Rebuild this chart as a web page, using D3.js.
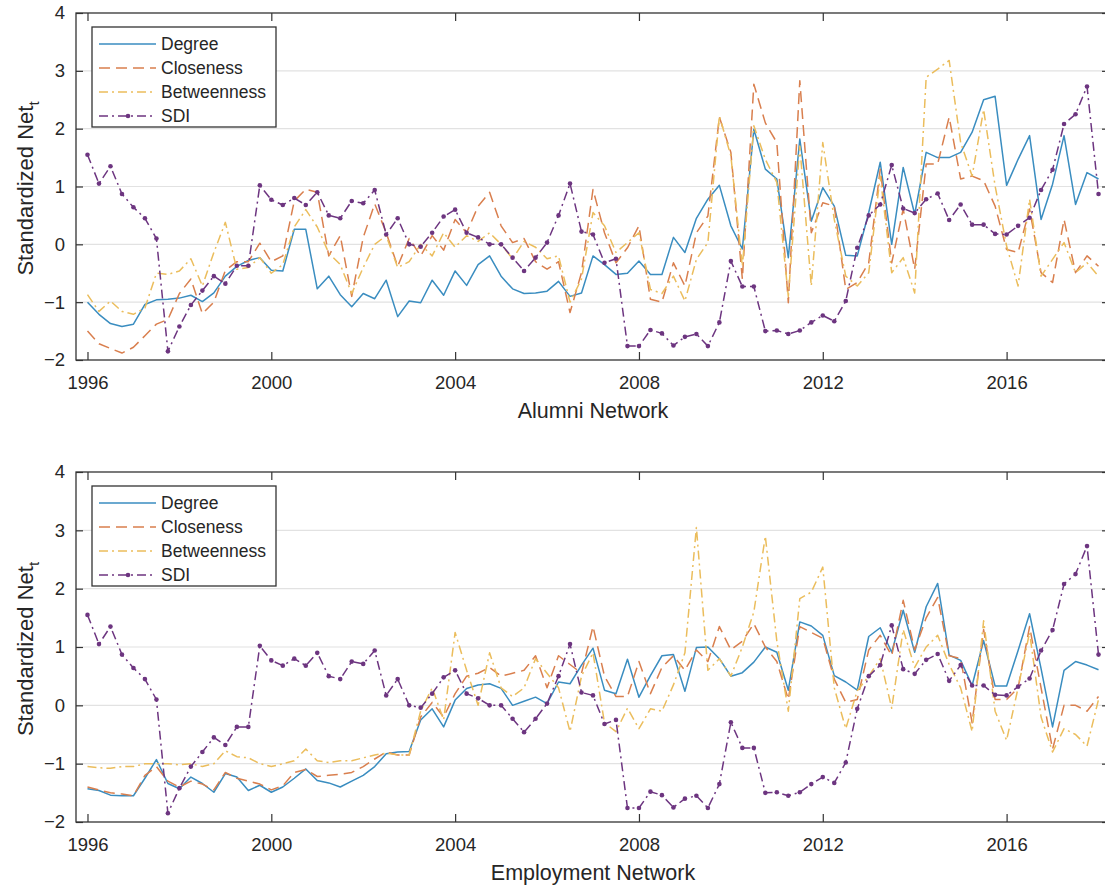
<!DOCTYPE html>
<html>
<head>
<meta charset="utf-8">
<script src="https://cdn.jsdelivr.net/npm/d3@7"></script>
<style>
  html, body { margin: 0; padding: 0; background: #fff; }
  svg { display: block; }
</style>
</head>
<body>
<script>
// ---------------- DATA ----------------
const startYear = 1996;          // first quarter shown
const periodsPerYear = 4;        // quarterly observations
const seriesNames = ["Degree", "Closeness", "Betweenness", "SDI"];
const xTickYears = [1996, 2000, 2004, 2008, 2012, 2016];
const yTickValues = [-2, -1, 0, 1, 2, 3, 4];
const panelLabels = ["Alumni Network", "Employment Network"];

// SDI (same in both panels)
const sdi = [
 1.55, 1.05, 1.35, 0.87, 0.64, 0.45, 0.10, -1.85, -1.42, -1.05, -0.80, -0.55, -0.68, -0.37, -0.37, 1.02,
 0.77, 0.68, 0.80, 0.68, 0.90, 0.50, 0.45, 0.75, 0.71, 0.94, 0.17, 0.45, 0.00, -0.04, 0.20, 0.48,
 0.60, 0.20, 0.12, 0.00, 0.00, -0.23, -0.46, -0.23, 0.03, 0.50, 1.05, 0.22, 0.17, -0.32, -0.25, -1.76,
 -1.76, -1.48, -1.54, -1.75, -1.60, -1.55, -1.76, -1.35, -0.29, -0.73, -0.73, -1.50, -1.49, -1.55, -1.49, -1.35,
 -1.23, -1.33, -0.98, -0.06, 0.50, 0.69, 1.37, 0.62, 0.54, 0.78, 0.88, 0.42, 0.69, 0.34, 0.34, 0.18,
 0.17, 0.32, 0.46, 0.94, 1.29, 2.08, 2.25, 2.73, 0.87
];

// Alumni network
const alumniDegree = [
 -1.00, -1.21, -1.37, -1.42, -1.38, -1.04, -0.96, -0.95, -0.93, -0.88, -0.99, -0.84, -0.55, -0.38, -0.28, -0.23,
 -0.45, -0.46, 0.26, 0.26, -0.77, -0.55, -0.87, -1.08, -0.85, -0.94, -0.62, -1.25, -0.98, -1.01, -0.62, -0.88,
 -0.46, -0.71, -0.35, -0.20, -0.55, -0.77, -0.85, -0.84, -0.81, -0.64, -0.90, -0.84, -0.20, -0.35, -0.52, -0.50,
 -0.29, -0.52, -0.52, 0.12, -0.14, 0.45, 0.78, 1.02, 0.32, -0.08, 1.99, 1.30, 1.13, -0.23, 1.82, 0.40,
 0.98, 0.66, -0.19, -0.20, 0.55, 1.42, 0.00, 1.33, 0.52, 1.59, 1.50, 1.50, 1.59, 1.94, 2.50, 2.56,
 1.02, 1.47, 1.88, 0.43, 1.04, 1.88, 0.69, 1.24, 1.13
];
const alumniCloseness = [
 -1.50, -1.72, -1.80, -1.88, -1.78, -1.58, -1.38, -1.30, -0.85, -0.60, -1.20, -1.00, -0.45, -0.30, -0.30, 0.02,
 -0.30, -0.20, 0.75, 0.95, 0.90, -0.20, 0.15, -0.90, 0.12, 0.70, 0.20, -0.38, 0.10, -0.20, 0.15, -0.10,
 0.43, 0.20, 0.66, 0.90, 0.32, 0.03, 0.10, -0.30, -0.43, -0.30, -1.18, -0.49, 0.95, 0.20, -0.32, -0.06,
 0.32, -0.95, -1.00, -0.32, -0.72, 0.20, 0.49, 2.20, 1.59, -0.60, 2.77, 2.10, 1.76, -1.01, 2.83, 0.20,
 0.72, 0.66, -0.78, -0.66, -0.32, 1.30, -0.32, 0.61, -0.43, 1.39, 1.39, 2.20, 1.13, 1.18, 1.10, 0.66,
 -0.09, -0.14, 0.61, -0.49, -0.66, 0.43, -0.49, -0.20, -0.38
];
const alumniBetweenness = [
 -0.87, -1.16, -0.98, -1.16, -1.21, -1.10, -0.50, -0.52, -0.46, -0.25, -0.72, -0.14, 0.38, -0.43, -0.40, -0.23,
 -0.50, -0.35, 0.30, 0.60, 0.30, -0.15, -0.35, -0.85, -0.40, 0.00, 0.15, -0.40, -0.30, 0.00, -0.20, 0.20,
 -0.05, 0.15, 0.05, 0.20, 0.00, -0.25, 0.05, -0.05, -0.25, -0.20, -1.00, -0.60, 0.55, 0.32, -0.14, 0.03,
 0.20, -0.78, -0.85, -0.55, -0.98, -0.26, 0.03, 2.22, 1.53, -0.38, 2.05, 1.47, 1.07, -0.90, 1.70, -0.72,
 1.76, 0.43, -0.55, -0.72, -0.49, 1.18, -0.49, -0.23, -0.84, 2.89, 3.03, 3.18, 1.76, 1.18, 2.33, 1.01,
 -0.03, -0.72, 0.78, -0.55, -0.26, 0.03, -0.49, -0.32, -0.55
];

// Employment network
const employDegree = [
 -1.43, -1.46, -1.54, -1.55, -1.55, -1.25, -0.93, -1.34, -1.43, -1.23, -1.34, -1.49, -1.17, -1.23, -1.46, -1.37,
 -1.49, -1.40, -1.25, -1.09, -1.29, -1.33, -1.40, -1.30, -1.20, -1.05, -0.83, -0.80, -0.79, -0.25, -0.06, -0.37,
 0.09, 0.29, 0.35, 0.37, 0.29, 0.00, 0.07, 0.14, 0.03, 0.40, 0.37, 0.69, 0.98, 0.26, 0.20, 0.79,
 0.14, 0.51, 0.85, 0.87, 0.24, 0.99, 1.00, 0.80, 0.50, 0.56, 0.74, 1.00, 0.91, 0.26, 1.43, 1.36,
 1.20, 0.51, 0.40, 0.26, 1.18, 1.33, 0.91, 1.63, 0.91, 1.69, 2.09, 0.86, 0.77, 0.34, 1.11, 0.33,
 0.33, 0.94, 1.57, 0.63, -0.37, 0.60, 0.75, 0.69, 0.61
];
const employCloseness = [
 -1.40, -1.45, -1.50, -1.52, -1.55, -1.20, -1.05, -1.30, -1.40, -1.30, -1.35, -1.45, -1.15, -1.25, -1.30, -1.35,
 -1.45, -1.38, -1.15, -1.10, -1.22, -1.20, -1.18, -1.15, -1.05, -0.92, -0.80, -0.85, -0.85, -0.20, 0.05, -0.20,
 0.20, 0.50, 0.55, 0.65, 0.50, 0.55, 0.60, 0.85, 0.30, 0.85, 0.70, 0.55, 1.35, 0.50, 0.15, 0.15,
 0.75, 0.20, 0.65, 0.85, 0.60, 0.95, 0.75, 1.35, 0.95, 1.10, 1.40, 1.00, 0.75, 0.10, 1.35, 1.25,
 1.15, 0.45, 0.05, 0.10, 0.95, 1.20, 0.85, 1.80, 0.95, 1.50, 1.85, 0.85, 0.80, -0.30, 1.30, 0.10,
 0.10, 0.30, 1.35, 0.30, -0.75, 0.00, 0.00, -0.10, 0.15
];
const employBetweenness = [
 -1.05, -1.07, -1.08, -1.05, -1.05, -1.00, -1.00, -1.00, -1.02, -1.00, -1.05, -1.00, -0.78, -0.88, -0.90, -1.00,
 -1.05, -1.00, -0.95, -0.75, -0.95, -0.98, -0.95, -0.95, -0.90, -0.85, -0.82, -0.85, -0.85, -0.10, 0.30, -0.25,
 1.25, 0.60, 0.00, 0.90, 0.30, 0.15, 0.30, 0.80, 0.55, 0.30, -0.45, 0.50, 0.90, -0.30, -0.45, -0.05,
 -0.40, -0.06, -0.10, 0.35, 0.90, 3.05, 0.60, 0.80, 0.50, 1.00, 1.60, 2.90, 1.10, -0.10, 1.83, 1.94,
 2.37, 0.30, -0.40, 0.25, 0.50, 0.80, -0.05, 1.30, 0.65, 1.00, 1.20, 0.70, 0.30, -0.45, 1.45, -0.10,
 -0.60, 0.30, 1.25, -0.20, -0.80, -0.40, -0.50, -0.70, 0.10
];

// ---------------- STYLE ----------------
const W = 1105, H = 888;
const FONT = "'Liberation Sans', Arial, Helvetica, sans-serif";
const TEXT = "#262626";
const colors = { Degree: "#3a8dc0", Closeness: "#d97f4e", Betweenness: "#ebbd5c", SDI: "#6d3580" };
const dashes = { Degree: null, Closeness: "11,6", Betweenness: "9,4,2,4", SDI: "9,4,2,4" };

const panels = [
  { top: 13, bottom: 360, label: panelLabels[0],
    series: { Degree: alumniDegree, Closeness: alumniCloseness, Betweenness: alumniBetweenness, SDI: sdi } },
  { top: 472, bottom: 822, label: panelLabels[1],
    series: { Degree: employDegree, Closeness: employCloseness, Betweenness: employBetweenness, SDI: sdi } }
];

const svg = d3.select("body").append("svg").attr("width", W).attr("height", H)
  .style("font-family", FONT);
svg.append("rect").attr("width", W).attr("height", H).attr("fill", "#fff");

const x = d3.scaleLinear().domain([1995.75, 2018.25]).range([76, 1110]);
const tOf = i => startYear + i / periodsPerYear;

panels.forEach((p, pi) => {
  const y = d3.scaleLinear().domain([-2, 4]).range([p.bottom, p.top]);
  const g = svg.append("g");
  const clipId = "clip" + pi;
  svg.append("defs").append("clipPath").attr("id", clipId)
    .append("rect").attr("x", x.range()[0]).attr("y", p.top)
    .attr("width", x.range()[1] - x.range()[0]).attr("height", p.bottom - p.top);

  // grid
  g.append("g").selectAll("line").data(yTickValues.filter(v => v > -2 && v < 4)).join("line")
    .attr("x1", x.range()[0]).attr("x2", x.range()[1])
    .attr("y1", d => y(d)).attr("y2", d => y(d))
    .attr("stroke", "#e2e2e2").attr("stroke-width", 1.2);

  const plot = g.append("g").attr("clip-path", `url(#${clipId})`);
  const line = d3.line().x((d, i) => x(tOf(i))).y(d => y(d));
  seriesNames.forEach(name => {
    const vals = p.series[name];
    plot.append("path").datum(vals)
      .attr("d", line).attr("fill", "none")
      .attr("stroke", colors[name]).attr("stroke-width", 1.5)
      .attr("stroke-linejoin", "round")
      .attr("stroke-dasharray", dashes[name]);
    if (name === "SDI") {
      plot.append("g").selectAll("circle").data(vals).join("circle")
        .attr("cx", (d, i) => x(tOf(i))).attr("cy", d => y(d)).attr("r", 2.3)
        .attr("fill", colors.SDI);
    }
  });

  // axes
  const fs = "18.5px";
  const ax = g.append("g").attr("transform", `translate(0,${p.bottom})`)
    .call(d3.axisBottom(x).tickValues(xTickYears).tickFormat(d3.format("d")).tickSize(-8).tickPadding(16));
  const at = g.append("g").attr("transform", `translate(0,${p.top})`)
    .call(d3.axisTop(x).tickValues(xTickYears).tickFormat("").tickSize(-8));
  const al = g.append("g").attr("transform", `translate(${x.range()[0]},0)`)
    .call(d3.axisLeft(y).tickValues(yTickValues).tickFormat(d3.format("d")).tickSize(-7).tickPadding(11));
  const ar = g.append("g").attr("transform", `translate(${x.range()[1]},0)`)
    .call(d3.axisRight(y).tickValues(yTickValues).tickFormat("").tickSize(-8));
  [ax, at, al, ar].forEach(a => {
    a.attr("font-family", FONT).attr("font-size", fs);
    a.select(".domain").remove();
    a.selectAll(".tick line").attr("stroke", "#333").attr("stroke-width", 1.2);
    a.selectAll("text").attr("fill", TEXT);
  });

  // frame
  g.append("rect").attr("x", x.range()[0]).attr("y", p.top)
    .attr("width", x.range()[1] - x.range()[0]).attr("height", p.bottom - p.top)
    .attr("fill", "none").attr("stroke", "#333").attr("stroke-width", 1.3);

  // x label
  g.append("text").attr("x", (x.range()[0] + x.range()[1]) / 2).attr("y", p.bottom + 58)
    .attr("text-anchor", "middle").attr("font-size", "21.5px").attr("fill", TEXT).text(p.label);

  // y label
  const yl = g.append("text")
    .attr("transform", `translate(33,${(p.top + p.bottom) / 2 + 2}) rotate(-90)`)
    .attr("text-anchor", "middle").attr("font-size", "22px").attr("fill", TEXT);
  yl.append("tspan").text("Standardized Net");
  yl.append("tspan").attr("font-size", "15px").attr("dy", "6").text("t");

  // legend
  const lg = g.append("g").attr("transform", `translate(92,${p.top + 14})`);
  lg.append("rect").attr("width", 184).attr("height", 100)
    .attr("fill", "#fff").attr("stroke", "#333").attr("stroke-width", 1.3);
  seriesNames.forEach((name, k) => {
    const cy = 17 + k * 24;
    lg.append("line").attr("x1", 7).attr("x2", 64).attr("y1", cy).attr("y2", cy)
      .attr("stroke", colors[name]).attr("stroke-width", 1.5)
      .attr("stroke-dasharray", dashes[name]);
    if (name === "SDI") {
      lg.append("circle").attr("cx", 36).attr("cy", cy).attr("r", 2.3).attr("fill", colors.SDI);
    }
    lg.append("text").attr("x", 69).attr("y", cy).attr("dy", "0.35em")
      .attr("font-size", "17.5px").attr("fill", TEXT).text(name);
  });
});
</script>
</body>
</html>
